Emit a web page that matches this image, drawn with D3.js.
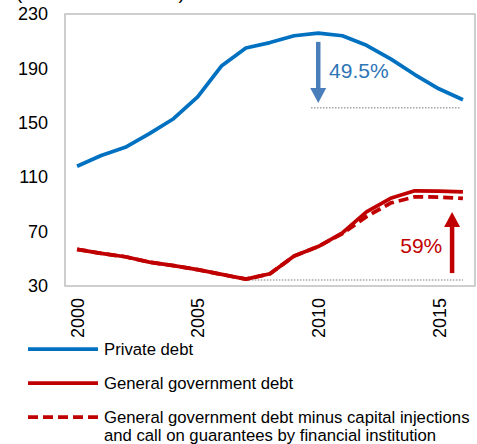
<!DOCTYPE html>
<html>
<head>
<meta charset="utf-8">
<script src="https://cdn.jsdelivr.net/npm/d3@7"></script>
<style>
  html, body { margin: 0; padding: 0; background: #fff; }
  svg { display: block; font-family: "Liberation Sans", Arial, sans-serif; }
</style>
</head>
<body>
<svg id="chart" width="477" height="444"></svg>
<script>
// Debt ratios, percent of GDP
const years = [2000, 2001, 2002, 2003, 2004, 2005, 2006, 2007, 2008, 2009, 2010, 2011, 2012, 2013, 2014, 2015, 2016];
const privateDebt = [118, 126, 132, 142, 153, 169, 192, 205, 209, 214, 216, 214, 207, 197, 185.5, 175, 167];
const govDebt = [57, 54, 51.5, 47.5, 45, 42, 38.5, 35, 39, 52, 59, 69, 84.5, 94.5, 100, 99.8, 99.2];
const govDebtAdjusted = [57, 54, 51.5, 47.5, 45, 42, 38.5, 35, 39, 52, 59, 68.5, 81, 91, 95.5, 95.4, 94.5];

const yTicks = [30, 70, 110, 150, 190, 230];
const xTickYears = [2000, 2005, 2010, 2015];

const seriesNames = [
  "Private debt",
  "General government debt",
  ["General government debt minus capital injections", "and call on guarantees by financial institution"]
];

// Annotations: change from peak to 2016 level (private) and trough to 2016 level (government)
const privateRef = { from: 2009.7, to: 2015.9, value: 161 };
const privateArrow = { year: 2010, top: 209.5, bottom: 164.5, label: "49.5%", labelYear: 2010.45, labelValue: 183 };
const govRef = { from: 2007, to: 2016, value: 34.5 };
const govArrow = { year: 2015.55, top: 84.5, bottom: 39.5, label: "59%", labelYear: 2013.4, labelValue: 54.3 };

const blue = "#0070C0", red = "#C00000", arrowBlue = "#4A7EBB", frame = "#BFBFBF", refGray = "#A6A6A6";

const svg = d3.select("#chart");
const plot = { left: 65, right: 475, top: 14, bottom: 286 };

const x = d3.scaleLinear().domain([1999.5, 2016.5]).range([plot.left, plot.right]);
const y = d3.scaleLinear().domain([30, 230]).range([plot.bottom, plot.top]);

// Unit heading above the plot (sits mostly above the top edge)
svg.append("text").attr("x", 16).attr("y", -1.5).attr("font-size", 19).attr("fill", "#000")
  .text("(as a share of GDP)");

// Plot frame
svg.append("rect")
  .attr("x", plot.left).attr("y", plot.top)
  .attr("width", plot.right - plot.left).attr("height", plot.bottom - plot.top)
  .attr("fill", "none").attr("stroke", frame).attr("stroke-width", 1.5);

// Y axis
const yAxis = svg.append("g").attr("transform", `translate(${plot.left},0)`)
  .call(d3.axisLeft(y).tickValues(yTicks).tickSize(0).tickPadding(17));
yAxis.select(".domain").remove();
yAxis.selectAll("text").attr("font-size", 18).attr("fill", "#000")
  .attr("font-family", "Liberation Sans, Arial, sans-serif");

// X axis with rotated year labels
const xAxis = svg.append("g").attr("transform", `translate(0,${plot.bottom})`)
  .call(d3.axisBottom(x).tickValues(xTickYears).tickFormat(d3.format("d")).tickSize(0));
xAxis.select(".domain").remove();
xAxis.selectAll("text")
  .attr("font-size", 18).attr("fill", "#000")
  .attr("font-family", "Liberation Sans, Arial, sans-serif")
  .attr("transform", "rotate(-90)")
  .attr("text-anchor", "end")
  .attr("x", -12).attr("y", 0).attr("dy", "0.35em");

// Reference dotted lines
svg.append("line")
  .attr("x1", x(privateRef.from)).attr("x2", x(privateRef.to))
  .attr("y1", y(privateRef.value)).attr("y2", y(privateRef.value))
  .attr("stroke", refGray).attr("stroke-width", 1.5).attr("stroke-dasharray", "1.5,1.5");
svg.append("line")
  .attr("x1", x(govRef.from)).attr("x2", x(govRef.to))
  .attr("y1", y(govRef.value)).attr("y2", y(govRef.value))
  .attr("stroke", refGray).attr("stroke-width", 1.5).attr("stroke-dasharray", "1.5,1.5");

// Series lines
const line = d3.line().x((d, i) => x(years[i])).y(d => y(d));
svg.append("path").datum(privateDebt).attr("d", line)
  .attr("fill", "none").attr("stroke", blue).attr("stroke-width", 3.75).attr("stroke-linejoin", "round");
svg.append("path").datum(govDebtAdjusted).attr("d", line)
  .attr("fill", "none").attr("stroke", red).attr("stroke-width", 3.75).attr("stroke-dasharray", "10,5");
svg.append("path").datum(govDebt).attr("d", line)
  .attr("fill", "none").attr("stroke", red).attr("stroke-width", 3.75).attr("stroke-linejoin", "round");

// Arrows
function arrow(a, color, pointDown) {
  const cx = x(a.year);
  const yTop = y(a.top), yBot = y(a.bottom);
  const head = 15, half = 8;
  if (pointDown) {
    svg.append("line").attr("x1", cx).attr("x2", cx).attr("y1", yTop).attr("y2", yBot - head + 1)
      .attr("stroke", color).attr("stroke-width", 4.5);
    svg.append("path").attr("d", `M${cx - half},${yBot - head}L${cx + half},${yBot - head}L${cx},${yBot}Z`)
      .attr("fill", color);
  } else {
    svg.append("line").attr("x1", cx).attr("x2", cx).attr("y1", yBot).attr("y2", yTop + head - 1)
      .attr("stroke", color).attr("stroke-width", 4.5);
    svg.append("path").attr("d", `M${cx - half},${yTop + head}L${cx + half},${yTop + head}L${cx},${yTop}Z`)
      .attr("fill", color);
  }
}
arrow(privateArrow, arrowBlue, true);
arrow(govArrow, red, false);

svg.append("text").attr("x", x(privateArrow.labelYear)).attr("y", y(privateArrow.labelValue))
  .attr("font-size", 21).attr("fill", "#2E75B6").text(privateArrow.label);
svg.append("text").attr("x", x(govArrow.labelYear)).attr("y", y(govArrow.labelValue))
  .attr("font-size", 21).attr("fill", red).text(govArrow.label);

// Legend
const legend = svg.append("g");
const legendRows = [
  { y: 349, color: blue, dash: null, text: seriesNames[0] },
  { y: 383, color: red, dash: null, text: seriesNames[1] },
  { y: 417, color: red, dash: "10,5", text: seriesNames[2] }
];
legendRows.forEach(r => {
  legend.append("line").attr("x1", 28).attr("x2", 98).attr("y1", r.y).attr("y2", r.y)
    .attr("stroke", r.color).attr("stroke-width", 3.75)
    .attr("stroke-dasharray", r.dash);
  const lines = Array.isArray(r.text) ? r.text : [r.text];
  lines.forEach((s, i) => {
    legend.append("text").attr("x", 104).attr("y", r.y + 5.5 + i * 18)
      .attr("font-size", 16.7).attr("fill", "#000").text(s);
  });
});
</script>
</body>
</html>
